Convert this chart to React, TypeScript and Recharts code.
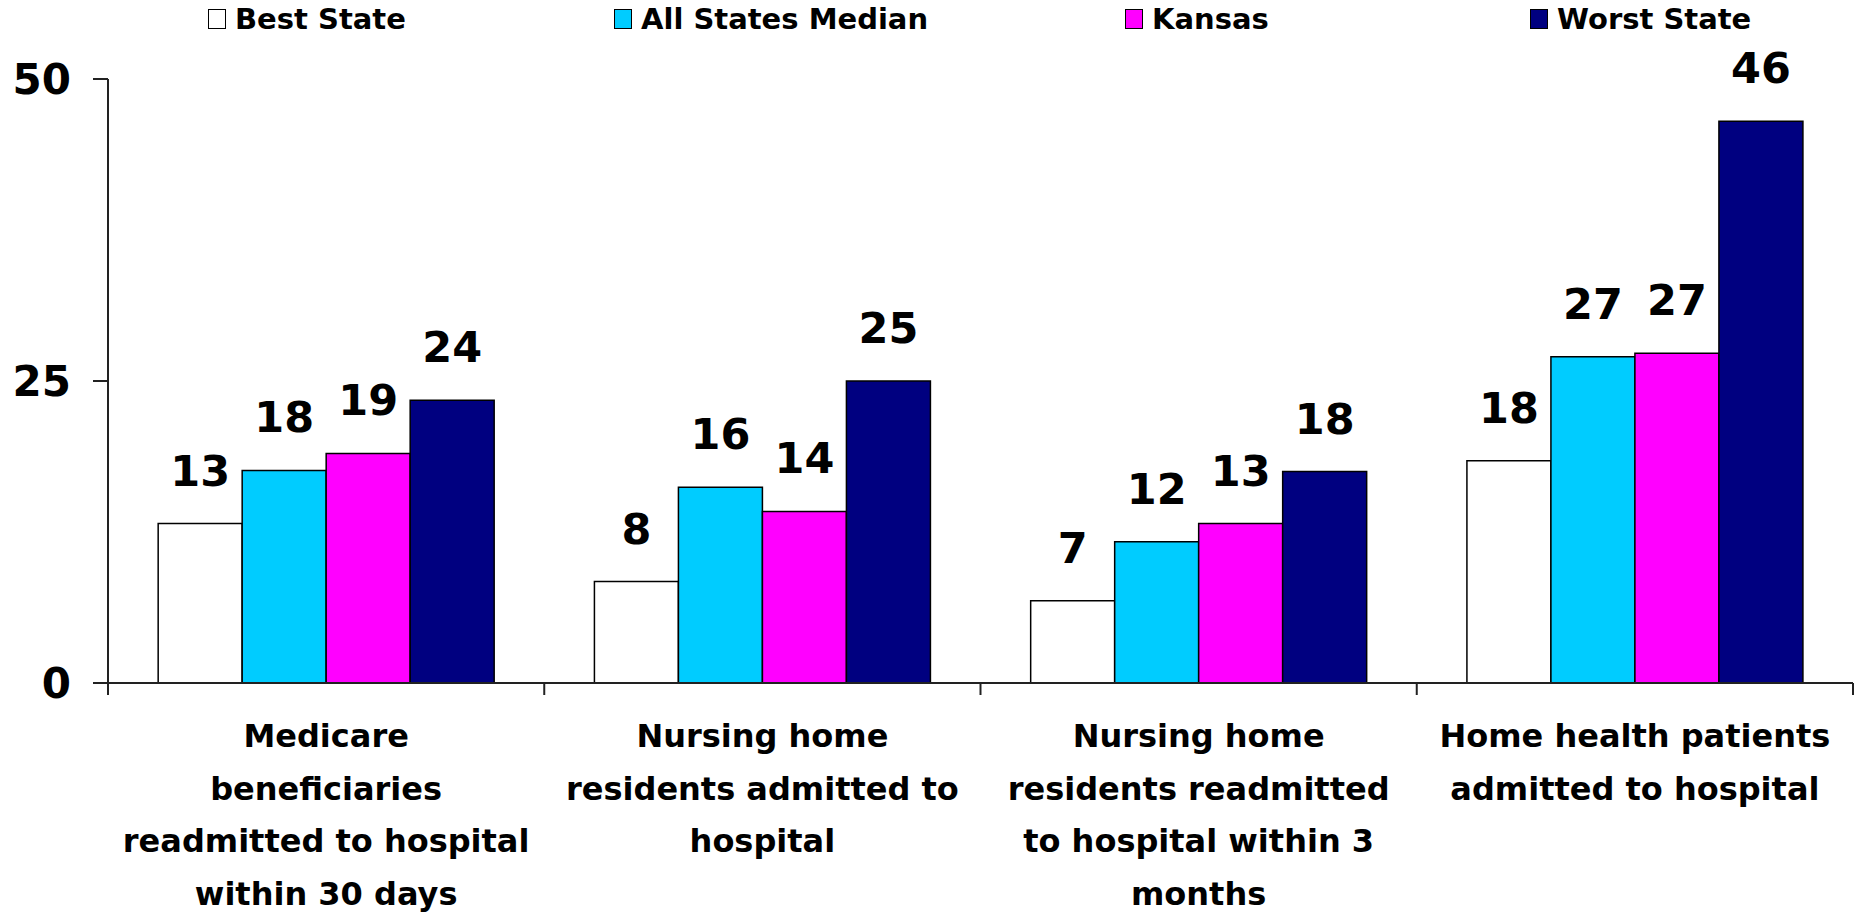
import { BarChart, Bar, XAxis, YAxis, Legend, LabelList } from "recharts";

// category labels, one entry per text line as in the original
const categoryLines = [
  ["Medicare", "beneficiaries", "readmitted to hospital", "within 30 days"],
  ["Nursing home", "residents admitted to", "hospital"],
  ["Nursing home", "residents readmitted", "to hospital within 3", "months"],
  ["Home health patients", "admitted to hospital"],
];

const seriesNames = ["Best State", "All States Median", "Kansas", "Worst State"];

// bar heights
const bestState = [13.2, 8.4, 6.8, 18.4];
const statesMedian = [17.6, 16.2, 11.7, 27.0];
const kansas = [19.0, 14.2, 13.2, 27.3];
const worstState = [23.4, 25.0, 17.5, 46.5];

// printed value labels
const bestLabels = [13, 8, 7, 18];
const medianLabels = [18, 16, 12, 27];
const kansasLabels = [19, 14, 13, 27];
const worstLabels = [24, 25, 18, 46];

const yTicks = [0, 25, 50];

const colors = ["#FFFFFF", "#00CCFF", "#FF00FF", "#000080"];
const legendLeft = [208, 614, 1125, 1530];

const W = 1855;
const H = 915;
const PLOT_LEFT = 108;
const PLOT_RIGHT = 1853;
const BAND = (PLOT_RIGHT - PLOT_LEFT) / categoryLines.length;
const FONT = "'DejaVu Sans', Verdana, sans-serif";

const data = categoryLines.map((lines, i) => ({
  name: lines.join(" "),
  best: bestState[i],
  median: statesMedian[i],
  kansas: kansas[i],
  worst: worstState[i],
  bestLabel: bestLabels[i],
  medianLabel: medianLabels[i],
  kansasLabel: kansasLabels[i],
  worstLabel: worstLabels[i],
}));

const CategoryTick = (props: any) => {
  const { x, y, index } = props;
  const lines = categoryLines[index] || [];
  const last = index === categoryLines.length - 1;
  return (
    <g>
      <line x1={x - BAND / 2} x2={x - BAND / 2} y1={y} y2={y + 12} stroke="#222" strokeWidth={2} />
      {last && (
        <line x1={x + BAND / 2} x2={x + BAND / 2} y1={y} y2={y + 12} stroke="#222" strokeWidth={2} />
      )}
      <text
        textAnchor="middle"
        fontFamily={FONT}
        fontWeight="bold"
        fontSize={32}
        fill="#000"
      >
        {lines.map((l, i) => (
          <tspan key={i} x={x} y={y + 64 + i * 52.7}>
            {l}
          </tspan>
        ))}
      </text>
    </g>
  );
};

const LegendContent = () => (
  <div style={{ position: "relative", width: W, height: 40 }}>
    {seriesNames.map((n, i) => (
      <div
        key={n}
        style={{
          position: "absolute",
          left: legendLeft[i],
          top: 4,
          display: "flex",
          alignItems: "center",
          height: 30,
        }}
      >
        <span
          style={{
            display: "inline-block",
            width: 16,
            height: 18,
            background: colors[i],
            border: "1.5px solid #000",
            marginRight: 9,
          }}
        />
        <span
          style={{
            fontFamily: FONT,
            fontWeight: "bold",
            fontSize: 29,
            lineHeight: "30px",
            color: "#000",
          }}
        >
          {n}
        </span>
      </div>
    ))}
  </div>
);

const labelStyle = {
  fontFamily: FONT,
  fontWeight: "bold",
  fontSize: 43,
  fill: "#000",
};

export default function App() {
  return (
    <div style={{ position: "absolute", left: 0, top: 0, background: "#fff" }}>
      <BarChart
        width={W}
        height={H}
        data={data}
        margin={{ top: 79, right: W - PLOT_RIGHT, bottom: 0, left: 0 }}
        barCategoryGap="11.5%"
        barGap={0}
      >
        <Legend
          verticalAlign="middle"
          wrapperStyle={{ top: 0, left: 0, width: W, height: 40 }}
          content={LegendContent}
        />
        <YAxis
          width={PLOT_LEFT}
          domain={[0, 50]}
          ticks={yTicks}
          interval={0}
          tickSize={15}
          tickMargin={22}
          axisLine={{ stroke: "#222", strokeWidth: 2 }}
          tickLine={{ stroke: "#222", strokeWidth: 2 }}
          tick={{ fontFamily: FONT, fontWeight: "bold", fontSize: 42, fill: "#000" }}
        />
        <XAxis
          dataKey="name"
          height={H - 683}
          interval={0}
          tickSize={0}
          tickMargin={0}
          tickLine={false}
          axisLine={{ stroke: "#222", strokeWidth: 2 }}
          tick={CategoryTick}
        />
        <Bar dataKey="best" fill={colors[0]} stroke="#000" strokeWidth={1.5} isAnimationActive={false}>
          <LabelList dataKey="bestLabel" position="top" offset={38} style={labelStyle} />
        </Bar>
        <Bar dataKey="median" fill={colors[1]} stroke="#000" strokeWidth={1.5} isAnimationActive={false}>
          <LabelList dataKey="medianLabel" position="top" offset={38} style={labelStyle} />
        </Bar>
        <Bar dataKey="kansas" fill={colors[2]} stroke="#000" strokeWidth={1.5} isAnimationActive={false}>
          <LabelList dataKey="kansasLabel" position="top" offset={38} style={labelStyle} />
        </Bar>
        <Bar dataKey="worst" fill={colors[3]} stroke="#000" strokeWidth={1.5} isAnimationActive={false}>
          <LabelList dataKey="worstLabel" position="top" offset={38} style={labelStyle} />
        </Bar>
      </BarChart>
    </div>
  );
}
